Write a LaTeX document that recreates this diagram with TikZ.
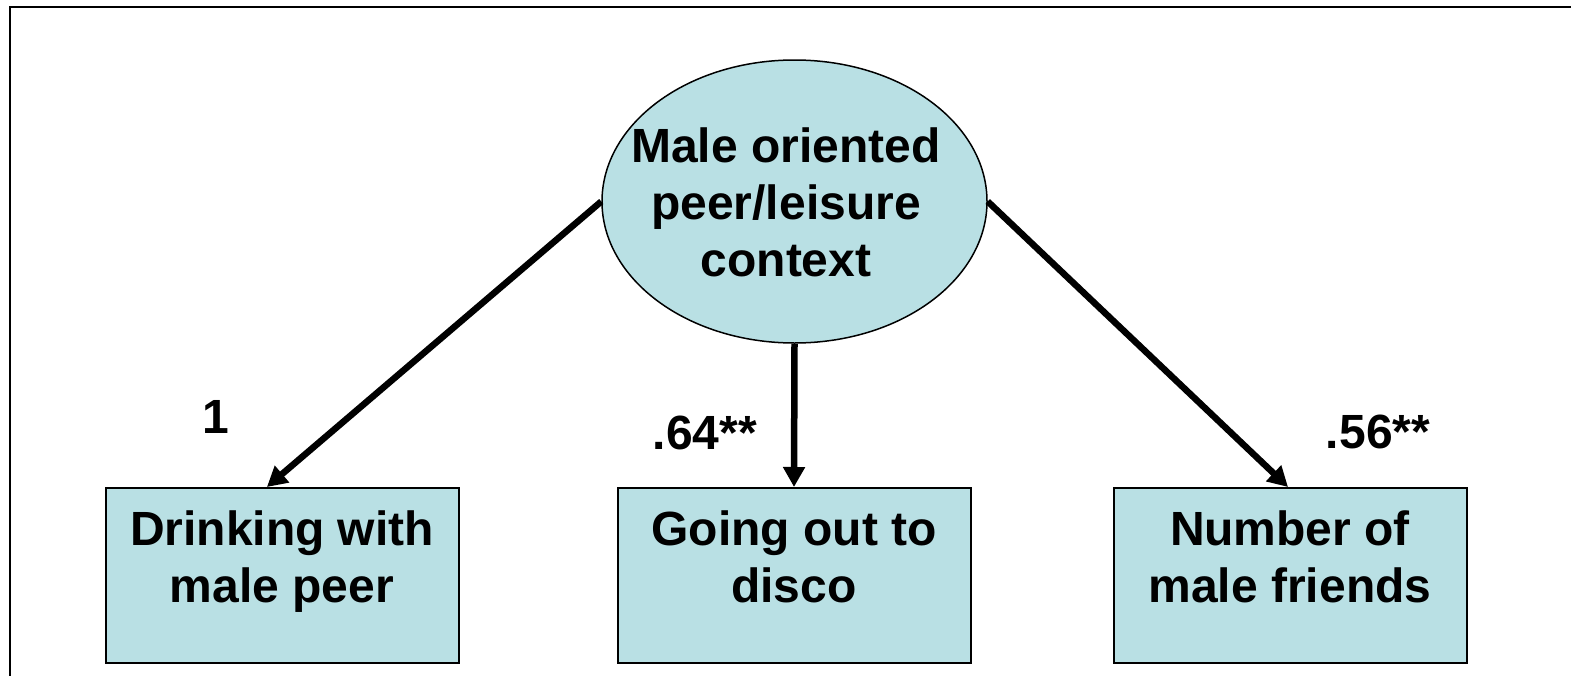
\documentclass[tikz,border=0pt]{standalone}
\usepackage{fontspec}
\setmainfont{Liberation Sans}
\usetikzlibrary{arrows.meta,shapes.geometric,calc}
\definecolor{boxfill}{RGB}{185,224,228}
\begin{document}
\begin{tikzpicture}[x=1pt,y=-1pt,
  txt/.style={font=\fontsize{48}{57}\selectfont\bfseries, align=center, inner sep=0pt},
  obs/.style={draw=black, line width=2pt, fill=boxfill, minimum width=353pt, minimum height=175pt, inner sep=0pt},
  lat/.style={ellipse, draw=black, line width=1.5pt, fill=boxfill, minimum width=385pt, minimum height=283pt, inner sep=0pt},
  loadarrow/.style={line width=6.5pt, -{Triangle[length=20pt,width=21pt]}},
  coef/.style={font=\fontsize{48}{57}\selectfont\bfseries, inner sep=0pt, anchor=base},
  frame/.style={line width=2.2pt, draw=black}
]
\useasboundingbox (0,0) rectangle (1571,675);
\fill[white] (0,0) rectangle (1571,675);
\draw[frame] (10,677) -- (10,7) -- (1573,7);

\node[lat] (L) at (794.5,201.5) {};
\node[txt] (Ltext) at (786,202) {Male oriented\\peer/leisure\\context};

\node[obs] (B1) at (282.5,575.5) {};
\node[txt] (B1text) at (282,562) {Drinking with\\male peer};
\node[obs] (B2) at (794,575.5) {};
\node[txt] (B2text) at (794,557) {Going out to\\disco};
\node[obs] (B3) at (1290.5,575.5) {};
\node[txt] (B3text) at (1290,557) {Number of\\male friends};

\draw[loadarrow] (L.west) -- ($(B1.north west)!0.456!(B1.north east)$);
\draw[loadarrow] (L.south) -- (B2.north);
\draw[loadarrow] (L.east) -- ($(B3.north west)!0.493!(B3.north east)$);

\node[coef] (c1) at (216,433) {1};
\node[coef] (c2) at (705,449) {.64**};
\node[coef] (c3) at (1378,448) {.56**};
\end{tikzpicture}
\end{document}
